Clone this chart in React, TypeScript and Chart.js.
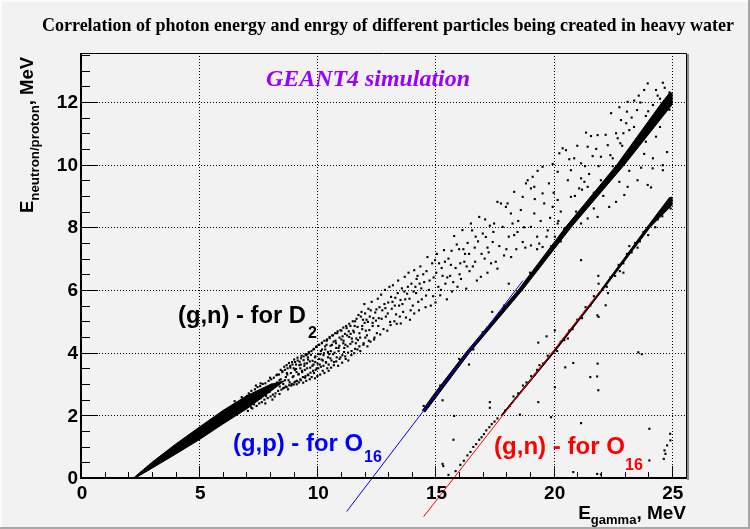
import React, { useEffect, useRef } from 'react';
import { Chart, registerables } from 'chart.js';

Chart.register(...registerables);

// ---------- axis ticks ----------
const xTicks = [0, 5, 10, 15, 20, 25];
const yTicks = [0, 2, 4, 6, 8, 10, 12];
const xMinorTicks = [1, 2, 3, 4, 6, 7, 8, 9, 11, 12, 13, 14, 16, 17, 18, 19, 21, 22, 23, 24];
const yMinorTicks = [0.5, 1, 1.5, 2.5, 3, 3.5, 4.5, 5, 5.5, 6.5, 7, 7.5, 8.5, 9, 9.5, 10.5, 11, 11.5, 12.5, 13, 13.5];
const xMin = 0, xMax = 25.6, yMin = 0, yMax = 13.56;

// ---------- data ----------
// dense core of the (g,n) D2 band (outline of the solid region)
const d2Core: [number, number][] = [
  [2.22, 0.0], [3.0, 0.5], [4.0, 1.08], [5.0, 1.62], [6.0, 2.15], [7.0, 2.62], [8.0, 2.98], [8.6, 3.1],
  [8.0, 2.75], [7.0, 2.2], [6.0, 1.72], [5.0, 1.22], [4.0, 0.76], [3.0, 0.31], [2.3, 0.0],
];

// semi-dense events of the D2 band (x 7 .. 12.5)
const d2Dense: [number, number][] = [
  [7.02, 2.62], [7.06, 2.14], [7.1, 2.7], [7.13, 2.3], [7.15, 2.46], [7.17, 2.55], [7.21, 2.78], [7.25, 2.22], [7.28, 2.62], [7.32, 2.35],
  [7.36, 2.83], [7.4, 2.48], [7.43, 2.3], [7.44, 2.62], [7.47, 2.9], [7.5, 2.7], [7.54, 2.38], [7.58, 2.93], [7.61, 2.55], [7.65, 2.42],
  [7.69, 3.0], [7.72, 2.8], [7.74, 2.68], [7.76, 2.5], [7.8, 3.02], [7.83, 2.62], [7.87, 2.9], [7.9, 2.55], [7.94, 3.1], [7.98, 2.75],
  [8.02, 2.6], [8.05, 3.15], [8.07, 2.98], [8.09, 2.86], [8.12, 2.66], [8.16, 3.2], [8.2, 2.95], [8.23, 2.7], [8.27, 3.28], [8.3, 3.05],
  [8.34, 2.78], [8.38, 3.3], [8.4, 3.12], [8.41, 2.92], [8.45, 3.15], [8.48, 2.82], [8.52, 3.38], [8.56, 3.0], [8.6, 2.88], [8.63, 3.45],
  [8.67, 3.22], [8.7, 2.9], [8.71, 3.35], [8.74, 3.5], [8.78, 3.12], [8.81, 2.96], [8.85, 3.58], [8.88, 3.35], [8.92, 3.0], [8.95, 3.62],
  [8.99, 3.25], [9.0, 3.5], [9.03, 3.05], [9.06, 3.7], [9.1, 3.48], [9.14, 3.1], [9.17, 3.75], [9.21, 3.32], [9.24, 3.6], [9.28, 3.15],
  [9.3, 3.62], [9.31, 3.82], [9.35, 3.42], [9.39, 3.22], [9.42, 3.88], [9.46, 3.65], [9.5, 3.25], [9.53, 3.92], [9.57, 3.5], [9.6, 3.3],
  [9.61, 3.78], [9.64, 4.02], [9.68, 3.72], [9.71, 3.36], [9.75, 4.05], [9.79, 3.58], [9.82, 3.42], [9.86, 4.12], [9.9, 3.85], [9.91, 3.7],
  [9.93, 3.45], [9.97, 4.2], [10.01, 3.65], [10.04, 3.5], [10.08, 4.25], [10.12, 3.95], [10.15, 3.55], [10.19, 4.3], [10.2, 4.1], [10.23, 3.75],
  [10.26, 3.58], [10.3, 4.38], [10.34, 4.1], [10.37, 3.68], [10.41, 4.42], [10.45, 3.85], [10.48, 3.62], [10.5, 3.95], [10.52, 4.5], [10.56, 4.22],
  [10.6, 3.75], [10.63, 4.55], [10.67, 3.95], [10.71, 3.7], [10.75, 4.62], [10.79, 4.3], [10.8, 4.15], [10.82, 3.85], [10.86, 4.68], [10.9, 4.05],
  [10.94, 3.8], [10.98, 4.72], [11.02, 4.42], [11.06, 3.92], [11.1, 4.8], [11.11, 4.38], [11.14, 4.15], [11.18, 3.88], [11.22, 4.85], [11.26, 4.55],
  [11.3, 4.0], [11.35, 4.92], [11.4, 4.28], [11.41, 4.6], [11.45, 4.05], [11.5, 5.0], [11.55, 4.65], [11.6, 4.12], [11.66, 5.08], [11.7, 4.82],
  [11.72, 4.4], [11.78, 4.2], [11.84, 5.15], [11.9, 4.75], [11.96, 4.3], [12.0, 4.95], [12.02, 5.25], [12.1, 4.55], [12.18, 4.38], [12.26, 5.35],
  [12.34, 4.85], [12.42, 4.48],
];

// extra events filling the middle of the D2 band
const d2Extra: [number, number][] = [
  [9.12, 3.38], [9.47, 3.45], [9.58, 3.95], [9.84, 3.62], [10.07, 3.8], [10.28, 3.98], [10.39, 4.25], [10.57, 4.05], [10.69, 4.35], [10.93, 4.22],
  [11.07, 4.52], [11.19, 4.25], [11.33, 4.68], [11.46, 4.45], [11.58, 4.85], [11.63, 4.3], [11.81, 4.48], [11.93, 5.05], [12.05, 4.7], [12.14, 4.98],
  [12.22, 5.15], [12.37, 5.1], [12.5, 5.38], [12.58, 4.85], [12.72, 5.08], [12.88, 5.42], [12.98, 5.25], [13.08, 4.98], [13.18, 5.62], [13.28, 5.5],
  [13.4, 5.9], [13.49, 5.15], [13.6, 5.55], [13.72, 5.7], [13.83, 6.1], [13.95, 5.35], [14.07, 5.95], [14.2, 6.35], [14.27, 5.62], [14.4, 6.05],
  [14.48, 6.5], [14.6, 5.82], [14.75, 6.3], [14.9, 5.8], [15.03, 6.55], [15.15, 6.85], [15.23, 6.0], [15.4, 6.9], [15.5, 6.4], [15.65, 6.8],
  [15.75, 6.25], [15.9, 7.45], [16.02, 6.5], [16.18, 7.3], [16.32, 6.75], [16.42, 7.15], [16.55, 7.9], [16.68, 6.9], [16.8, 7.55], [16.95, 7.15],
  [17.1, 8.25], [17.2, 7.35], [17.35, 6.85], [17.45, 7.85], [18.0, 7.3], [18.5, 8.2], [18.75, 8.0], [19.2, 8.9], [19.45, 8.2], [19.8, 9.4],
  [20.0, 9.1], [20.3, 8.5], [20.6, 9.5], [20.9, 9.0], [21.0, 10.6], [21.5, 9.7], [21.8, 10.5], [22.2, 10.95], [22.5, 10.2], [22.95, 11.0],
  [23.3, 11.5], [23.6, 12.2], [24.0, 11.7], [24.4, 12.2], [24.7, 12.45], [23.2, 9.8], [23.7, 9.9], [24.2, 10.2],
];

// scattered events of the (g,n) D2 reaction
const d2Points: [number, number][] = [
  [6.5, 2.45], [6.8, 2.58], [7.2, 2.25], [7.4, 2.95], [7.6, 3.02], [7.8, 2.38], [8.0, 3.2], [8.1, 2.5], [8.2, 2.6], [8.3, 3.3], [8.4, 2.68], [8.45, 3.45],
  [8.52, 3.41], [8.55, 2.86], [8.6, 3.55], [8.63, 3.12], [8.66, 2.92], [8.7, 3.6], [8.73, 3.3], [8.76, 2.83], [8.8, 3.67], [8.83, 3.05], [8.86, 3.52],
  [8.9, 2.95], [8.93, 3.7], [8.96, 3.22], [9.0, 2.98], [9.02, 3.78], [9.05, 3.45], [9.08, 3.08], [9.1, 3.62], [9.13, 2.99], [9.16, 3.84], [9.2, 3.3],
  [9.22, 3.05], [9.25, 3.71], [9.28, 3.5], [9.3, 3.12], [9.33, 3.9], [9.36, 3.38], [9.4, 3.04], [9.42, 3.76], [9.45, 3.58], [9.48, 3.2], [9.5, 3.95],
  [9.53, 3.1], [9.56, 3.66], [9.6, 3.85], [9.62, 3.28], [9.65, 4.0], [9.68, 3.15], [9.7, 3.52], [9.73, 3.93], [9.76, 3.22], [9.8, 3.74], [9.83, 4.1],
  [9.86, 3.35], [9.9, 3.18], [9.92, 3.88], [9.95, 4.18], [9.98, 3.5], [10.0, 3.25], [10.03, 3.96], [10.06, 4.25], [10.1, 3.62], [10.12, 3.3],
  [10.15, 4.05], [10.18, 3.78], [10.2, 4.32], [10.23, 3.42], [10.26, 3.92], [10.3, 3.35], [10.33, 4.2], [10.36, 3.7], [10.4, 4.38], [10.42, 3.5],
  [10.45, 4.02], [10.48, 3.42],
  [10.52, 4.46], [10.55, 3.82], [10.58, 3.52], [10.62, 4.25], [10.66, 4.55], [10.7, 3.6], [10.73, 4.0], [10.77, 4.38], [10.8, 3.72], [10.84, 4.62],
  [10.88, 3.58], [10.9, 4.15], [10.94, 4.48], [10.98, 3.85], [11.02, 4.7], [11.05, 3.68], [11.1, 4.3], [11.13, 4.02], [11.17, 4.6], [11.2, 3.8],
  [11.24, 4.78], [11.28, 4.2], [11.31, 3.75], [11.35, 4.5], [11.4, 4.85], [11.44, 3.92], [11.48, 4.35],
  [11.52, 4.7], [11.56, 3.98], [11.6, 5.0], [11.65, 4.45], [11.7, 4.1], [11.74, 5.2], [11.78, 4.62], [11.82, 4.05], [11.87, 5.3], [11.9, 4.85],
  [11.95, 4.25], [11.99, 5.55], [12.03, 4.48], [12.08, 5.05], [12.12, 4.2], [12.16, 5.4], [12.2, 4.72], [12.25, 4.35], [12.3, 5.62], [12.34, 4.95],
  [12.4, 4.42], [12.45, 5.28],
  [12.52, 4.62], [12.56, 5.72], [12.6, 5.1], [12.66, 4.58], [12.7, 5.85], [12.75, 5.35], [12.8, 4.75], [12.86, 6.0], [12.9, 5.15], [12.96, 4.7],
  [13.0, 5.6], [13.05, 6.1], [13.1, 4.88], [13.15, 5.4], [13.2, 6.15], [13.26, 5.0], [13.3, 5.75], [13.36, 4.92], [13.42, 6.3], [13.46, 5.5],
  [13.53, 4.93], [13.58, 6.05], [13.63, 5.3], [13.7, 6.42], [13.75, 5.12], [13.8, 5.88], [13.86, 6.55], [13.92, 5.05], [13.98, 6.2], [14.04, 5.5],
  [14.1, 6.63], [14.1, 5.25], [14.18, 5.9], [14.24, 6.45], [14.3, 5.35], [14.36, 6.75], [14.42, 5.7],
  [12.48, 5.02], [12.63, 5.45], [12.84, 5.55], [13.12, 5.78], [13.33, 5.22], [13.52, 5.68], [13.68, 5.95], [13.9, 5.72], [14.15, 6.1], [14.33, 6.2],
  [14.52, 6.25], [14.58, 5.45], [14.66, 7.05], [14.72, 6.0], [14.8, 5.5], [14.86, 6.85], [14.92, 6.4], [15.0, 5.6], [15.06, 7.15], [15.12, 6.1],
  [15.2, 5.83], [15.26, 6.7], [15.36, 7.27], [15.42, 6.2], [15.48, 5.7], [14.62, 6.6], [14.98, 6.95], [15.3, 6.45],
  [15.55, 7.0], [15.62, 6.45], [15.7, 5.95], [15.79, 7.72], [15.85, 6.7], [15.93, 6.1], [16.0, 7.3], [16.08, 6.35], [16.14, 7.91], [16.22, 6.9],
  [16.3, 6.04], [16.36, 7.5], [16.44, 6.6], [15.68, 7.25], [16.05, 6.85], [16.25, 7.15],
  [16.5, 8.12], [16.58, 6.75], [16.66, 7.35], [16.75, 6.3], [16.85, 8.33], [16.92, 6.42], [17.0, 7.8], [17.08, 7.0], [17.13, 7.69], [17.2, 6.55],
  [17.3, 8.05], [17.42, 7.53], [17.48, 8.12], [16.7, 7.7], [17.25, 7.2],
  [17.55, 6.9], [17.62, 8.81], [17.62, 6.68], [17.7, 7.4], [17.77, 8.76], [17.84, 8.01], [17.9, 7.1], [17.98, 8.65], [18.05, 8.76], [18.1, 7.7],
  [18.2, 7.05], [18.19, 8.44], [18.26, 8.12], [18.33, 7.75], [18.33, 9.13], [18.42, 7.3], [18.47, 7.85],
  [18.61, 8.55], [18.69, 8.97], [18.69, 7.53], [18.8, 7.35], [18.83, 9.4], [18.9, 9.5], [19.04, 9.24], [19.04, 8.01], [19.04, 7.42], [19.11, 9.61],
  [19.18, 9.29], [19.18, 8.44], [19.3, 7.7], [19.32, 9.8], [19.39, 7.48],
  [19.53, 9.93], [19.53, 9.08], [19.53, 7.37], [19.6, 8.76], [19.75, 7.9], [19.85, 8.3], [19.96, 10.02], [19.96, 8.65], [20.05, 7.7], [20.17, 9.77],
  [20.17, 8.87], [20.17, 8.12], [20.24, 10.36], [20.38, 10.52], [20.45, 7.95],
  [20.52, 10.46], [20.66, 10.17], [20.73, 9.82], [20.73, 8.97], [20.87, 10.2], [20.95, 8.3], [21.16, 10.04], [21.16, 9.56], [21.16, 8.12], [21.3, 9.45],
  [21.33, 9.95], [21.37, 11.02], [21.44, 10.57], [21.44, 9.29], [21.44, 8.28], [21.08, 9.24],
  [21.58, 10.91], [21.65, 10.27], [21.86, 10.94], [21.86, 8.33], [22.0, 10.25], [22.29, 10.62], [22.35, 8.65], [22.43, 11.64], [22.1, 9.0], [21.7, 8.6],
  [22.64, 11.0], [22.64, 8.81], [22.71, 10.84], [22.78, 11.83], [22.82, 10.68], [22.85, 11.42], [22.78, 9.45], [22.99, 9.03], [23.07, 11.32],
  [23.1, 11.69], [23.13, 12.0], [23.13, 9.29], [23.2, 11.1], [23.41, 12.04], [23.53, 11.74], [23.55, 9.5],
  [23.67, 11.98], [23.83, 12.38], [23.83, 10.34], [23.9, 10.73], [23.98, 12.59], [23.98, 9.35], [24.12, 9.27], [24.19, 9.88], [24.33, 12.38],
  [24.33, 10.89], [24.62, 12.61], [24.62, 9.98], [24.62, 9.82], [24.5, 11.2], [24.8, 10.4], [24.9, 12.3],
];

// dense core of the (g,p) O16 band
const gpCore: [number, number][] = [
  [14.44, 2.15], [14.96, 2.7], [16.28, 4.0], [18.5, 6.0], [20.5, 8.0], [22.68, 10.0], [24.6, 12.0], [24.92, 12.3], [25.0, 12.28],
  [25.0, 11.9], [23.0, 10.0], [20.74, 8.0], [18.68, 6.0], [16.44, 4.0], [15.05, 2.6], [14.55, 2.1],
];
const gpPoints: [number, number][] = [
  [14.5, 2.3], [14.7, 2.35], [15.2, 2.95], [15.6, 3.2], [16.0, 3.8], [16.6, 4.1], [17.0, 4.65], [17.2, 4.8], [17.4, 5.3], [17.9, 5.5], [18.1, 6.2],
  [18.3, 5.7], [19.0, 6.55], [19.5, 6.9], [19.7, 7.7], [19.9, 7.4], [20.3, 7.55], [20.5, 7.9], [20.95, 8.5], [21.3, 8.65], [21.7, 9.1], [22.0, 9.5],
  [22.2, 9.35], [22.5, 9.95], [23.0, 10.1], [23.3, 10.5], [23.5, 10.8], [23.7, 10.95], [24.1, 11.4], [24.4, 11.5], [24.7, 11.7], [24.9, 11.75],
  [24.2, 11.9], [23.9, 11.55], [22.4, 10.3], [21.2, 9.2], [20.2, 8.2], [21.9, 9.95], [23.4, 11.2], [24.5, 12.1], [22.9, 10.6], [19.3, 7.3],
];

// dense core of the (g,n) O16 band
const gnCore: [number, number][] = [
  [17.78, 2.0], [19.94, 4.0], [22.0, 6.0], [23.95, 8.0], [24.9, 8.95], [25.0, 8.96],
  [25.0, 8.7], [24.08, 8.0], [22.08, 6.0], [20.01, 4.0], [17.83, 2.0],
];
const gnPoints: [number, number][] = [
  [15.55, 0.1], [15.85, 0.22], [16.05, 0.42], [16.2, 0.55], [16.35, 0.72], [16.48, 0.83], [16.6, 0.99], [16.72, 1.08], [16.85, 1.22], [16.95, 1.3],
  [17.05, 1.4], [17.15, 1.52], [17.28, 1.62], [17.38, 1.72], [17.5, 1.8], [17.62, 1.9],
  [17.95, 2.15], [18.15, 2.3], [18.3, 2.6], [18.5, 2.7], [18.7, 2.95], [18.85, 3.05], [19.05, 3.25], [19.2, 3.3], [19.3, 3.45], [19.4, 3.6],
  [19.55, 3.65], [19.75, 3.9], [20.15, 4.05], [20.3, 4.35], [20.45, 4.4], [20.6, 4.45], [20.65, 4.7], [20.8, 4.75], [21.0, 5.05], [21.2, 5.1],
  [21.35, 5.45], [21.55, 5.5], [21.7, 5.8], [21.9, 6.2], [22.3, 5.9], [22.25, 6.1], [22.4, 6.4], [22.6, 6.45], [22.75, 6.8], [22.95, 6.85],
  [22.95, 6.55], [23.1, 7.15], [23.3, 7.2], [23.45, 7.5], [23.55, 7.35], [23.65, 7.55], [23.8, 7.85], [24.0, 7.75], [24.2, 8.2], [24.3, 8.0],
  [24.4, 8.25], [24.5, 8.5], [24.7, 8.55], [24.8, 8.8], [24.95, 8.6], [23.2, 7.4], [24.6, 8.35], [22.8, 6.6],
];

// isolated events in the lower right
const strayPoints: [number, number][] = [
  [21.16, 6.95], [21.89, 6.45], [22.2, 5.51], [21.85, 5.19], [21.9, 5.14], [20.05, 4.71], [19.35, 4.32], [19.7, 4.52], [23.58, 4.01], [23.73, 3.95],
  [20.49, 3.53], [20.83, 3.67], [21.86, 3.65], [21.55, 3.22], [21.84, 3.24], [21.89, 2.8], [20.05, 2.9], [19.35, 2.42], [19.89, 1.94], [21.16, 1.75],
  [24.05, 1.57], [24.93, 1.41], [24.94, 1.2], [24.8, 1.04], [24.69, 0.88], [24.66, 0.61], [24.73, 0.77], [24.05, 0.56], [20.83, 0.19], [21.84, 0.13],
  [22.0, 0.11], [15.33, 0.38], [15.3, 2.48], [15.79, 1.98], [15.76, 1.22], [15.3, 0.45], [17.3, 2.42], [17.3, 2.24], [16.42, 3.62], [18.57, 2.02],
];

// guide lines drawn by hand in the original
const bluePath: [number, number][] = [[11.24, -1.07], [18.7, 6.3]];
const redPath: [number, number][] = [[14.5, -1.23], [22.0, 6.0]];

// ---------- texts ----------
const titleText = 'Correlation of photon energy and enrgy of different particles being created in heavy water';
const simText = 'GEANT4 simulation';
const labelD2 = ['(g,n) - for D', '2'];
const labelGp = ['(g,p) - for O', '16'];
const labelGn = ['(g,n) - for O', '16'];

const SANS = '"Liberation Sans", Arial, Helvetica, sans-serif';
const SERIF = '"Liberation Serif", "Times New Roman", serif';

function toXY(a: [number, number][]) {
  return a.map(([x, y]) => ({ x, y }));
}

function fitText(ctx: CanvasRenderingContext2D, text: string, x: number, y: number, width: number, align: 'left' | 'center' | 'right' = 'left') {
  const w = ctx.measureText(text).width;
  const s = width / w;
  ctx.save();
  ctx.translate(x, y);
  ctx.scale(s, 1);
  ctx.textAlign = 'left';
  const sx = align === 'center' ? -w / 2 : align === 'right' ? -w : 0;
  ctx.fillText(text, sx, 0);
  ctx.restore();
}

const decor = {
  id: 'rootDecor',
  beforeDraw(chart: any) {
    const ctx: CanvasRenderingContext2D = chart.ctx;
    const W = chart.width, H = chart.height;
    ctx.save();
    ctx.fillStyle = '#f2f2f2';
    ctx.fillRect(0, 0, W, H);
    ctx.fillStyle = '#fbfbfb';
    ctx.fillRect(0, 0, W, 2);
    ctx.fillRect(0, 0, 2, H);
    ctx.fillStyle = '#a8a8a8';
    ctx.fillRect(0, H - 2, W, 2);
    ctx.fillRect(W - 2, 0, 2, H);
    ctx.restore();
  },
  beforeDatasetsDraw(chart: any) {
    const ctx: CanvasRenderingContext2D = chart.ctx;
    const a = chart.chartArea;
    const xs = chart.scales.x, ys = chart.scales.y;
    ctx.save();
    ctx.strokeStyle = '#000';
    ctx.lineWidth = 1;
    ctx.setLineDash([1, 2]);
    for (const v of xTicks) {
      if (v === 0) continue;
      const px = Math.round(xs.getPixelForValue(v)) + 0.5;
      ctx.beginPath(); ctx.moveTo(px, a.top); ctx.lineTo(px, a.bottom); ctx.stroke();
    }
    for (const v of yTicks) {
      if (v === 0) continue;
      const py = Math.round(ys.getPixelForValue(v)) + 0.5;
      ctx.beginPath(); ctx.moveTo(a.left, py); ctx.lineTo(a.right, py); ctx.stroke();
    }
    ctx.restore();
  },
  afterDatasetsDraw(chart: any) {
    const ctx: CanvasRenderingContext2D = chart.ctx;
    const a = chart.chartArea;
    const xs = chart.scales.x, ys = chart.scales.y;
    ctx.save();
    // frame
    ctx.strokeStyle = '#000';
    ctx.lineWidth = 1;
    ctx.beginPath();
    ctx.moveTo(a.left, a.top + 0.5); ctx.lineTo(a.right + 0.5, a.top + 0.5); ctx.lineTo(a.right + 0.5, a.bottom);
    ctx.stroke();
    ctx.fillStyle = '#8c8c8c';
    ctx.fillRect(a.right + 1, a.top + 1, 2, a.bottom - a.top + 1);
    ctx.lineWidth = 2;
    ctx.beginPath();
    ctx.moveTo(a.left, a.top); ctx.lineTo(a.left, a.bottom); ctx.lineTo(a.right + 1, a.bottom);
    ctx.stroke();
    // ticks
    ctx.lineWidth = 1;
    const tick = (x1: number, y1: number, x2: number, y2: number) => {
      ctx.beginPath(); ctx.moveTo(x1, y1); ctx.lineTo(x2, y2); ctx.stroke();
    };
    for (const v of xTicks) {
      const px = Math.round(xs.getPixelForValue(v)) + 0.5;
      tick(px, a.bottom, px, a.bottom - 12);
    }
    for (const v of xMinorTicks) {
      const px = Math.round(xs.getPixelForValue(v)) + 0.5;
      tick(px, a.bottom, px, a.bottom - 6);
    }
    for (const v of yTicks) {
      const py = Math.round(ys.getPixelForValue(v)) + 0.5;
      tick(a.left, py, a.left + 17, py);
    }
    for (const v of yMinorTicks) {
      const py = Math.round(ys.getPixelForValue(v)) + 0.5;
      tick(a.left, py, a.left + 9, py);
    }
    // tick labels
    ctx.fillStyle = '#000';
    ctx.font = `bold 19px ${SANS}`;
    ctx.textBaseline = 'middle';
    ctx.textAlign = 'right';
    for (const v of yTicks) {
      ctx.fillText(String(v), a.left - 3, ys.getPixelForValue(v) + 1);
    }
    ctx.textBaseline = 'alphabetic';
    ctx.textAlign = 'center';
    ctx.font = `bold 19px ${SANS}`;
    for (const v of xTicks) {
      ctx.fillText(String(v), xs.getPixelForValue(v) + 1, a.bottom + 21);
    }
    // x title: E_gamma, MeV (right aligned to frame)
    {
      const big = `bold 19px ${SANS}`, small = `bold 13px ${SANS}`;
      ctx.font = big; const w1 = ctx.measureText('E').width;
      ctx.font = small; const w2 = ctx.measureText('gamma').width;
      ctx.font = big; const w3 = ctx.measureText(', MeV').width;
      const total = w1 + w2 + w3;
      const x0 = a.right - total;
      const by = 519;
      ctx.textAlign = 'left';
      ctx.font = big; ctx.fillText('E', x0, by);
      ctx.font = small; ctx.fillText('gamma', x0 + w1, by + 5);
      ctx.font = big; ctx.fillText(', MeV', x0 + w1 + w2, by);
    }
    // y title (rotated): E_neutron/proton, MeV
    {
      const big = `bold 18px ${SANS}`, small = `bold 13px ${SANS}`;
      ctx.font = big; const w1 = ctx.measureText('E').width;
      ctx.font = small; const w2 = ctx.measureText('neutron/proton').width;
      ctx.font = big; const w3 = ctx.measureText(', MeV').width;
      const total = w1 + w2 + w3;
      const s = 156 / total;
      ctx.save();
      ctx.translate(33, 213);
      ctx.rotate(-Math.PI / 2);
      ctx.scale(s, 1);
      ctx.textAlign = 'left';
      ctx.font = big; ctx.fillText('E', 0, 0);
      ctx.font = small; ctx.fillText('neutron/proton', w1, 6);
      ctx.font = big; ctx.fillText(', MeV', w1 + w2, 0);
      ctx.restore();
    }
    // title
    ctx.fillStyle = '#000';
    ctx.font = `bold 19px ${SERIF}`;
    fitText(ctx, titleText, 388, 31, 692, 'center');
    // GEANT4 simulation
    ctx.fillStyle = '#9900ff';
    ctx.font = `italic bold 23px ${SERIF}`;
    fitText(ctx, simText, 266, 86, 204, 'left');
    // legends
    const legend = (parts: string[], color: string, x: number, y: number, width: number, sx: number, sy: number) => {
      ctx.fillStyle = color;
      ctx.font = `bold 23px ${SANS}`;
      fitText(ctx, parts[0], x, y, width, 'left');
      ctx.font = `bold 16px ${SANS}`;
      ctx.textAlign = 'left';
      ctx.fillText(parts[1], sx, sy);
    };
    legend(labelD2, '#000000', 178, 323, 128, 308, 338);
    legend(labelGp, '#0000ff', 233, 451, 130, 364, 462);
    legend(labelGn, '#ff0000', 494, 454, 131, 625, 469.5);
    ctx.restore();
  },
};

export default function App() {
  const ref = useRef<HTMLCanvasElement | null>(null);
  useEffect(() => {
    const canvas = ref.current;
    if (!canvas) return;
    const pointDs = (pts: [number, number][]) => ({
      data: toXY(pts),
      showLine: false,
      pointStyle: 'rect',
      pointRadius: 1.5,
      pointBorderWidth: 0,
      pointBackgroundColor: '#000',
      backgroundColor: '#000',
      borderColor: '#000',
    });
    const shapeDs = (pts: [number, number][]) => ({
      data: toXY(pts),
      showLine: true,
      fill: 'shape',
      tension: 0,
      pointRadius: 0,
      borderWidth: 1,
      borderColor: '#000',
      backgroundColor: '#000',
    });
    const lineDs = (pts: [number, number][], color: string) => ({
      data: toXY(pts),
      showLine: true,
      fill: false,
      tension: 0,
      pointRadius: 0,
      borderWidth: 1,
      borderColor: color,
      backgroundColor: color,
      clip: false,
    });
    const chart = new Chart(canvas, {
      type: 'scatter',
      data: {
        datasets: [
          lineDs(bluePath, '#0000ff'),
          lineDs(redPath, '#ff0000'),
          pointDs(d2Dense),
          pointDs(d2Extra),
          pointDs(d2Points),
          pointDs(gpPoints),
          pointDs(gnPoints),
          pointDs(strayPoints),
          shapeDs(d2Core),
          shapeDs(gpCore),
          shapeDs(gnCore),
        ] as any,
      },
      options: {
        responsive: false,
        animation: false,
        devicePixelRatio: 1,
        events: [],
        layout: { padding: { left: 81, right: 64, top: 53, bottom: 51 } },
        scales: {
          x: { type: 'linear', min: xMin, max: xMax, display: false },
          y: { type: 'linear', min: yMin, max: yMax, display: false },
        },
        plugins: { legend: { display: false }, tooltip: { enabled: false } },
      } as any,
      plugins: [decor],
    });
    return () => chart.destroy();
  }, []);
  return (
    <div style={{ position: 'absolute', left: 0, top: 0, width: 750, height: 529 }}>
      <canvas ref={ref} width={750} height={529} style={{ display: 'block', width: 750, height: 529 }} />
    </div>
  );
}
